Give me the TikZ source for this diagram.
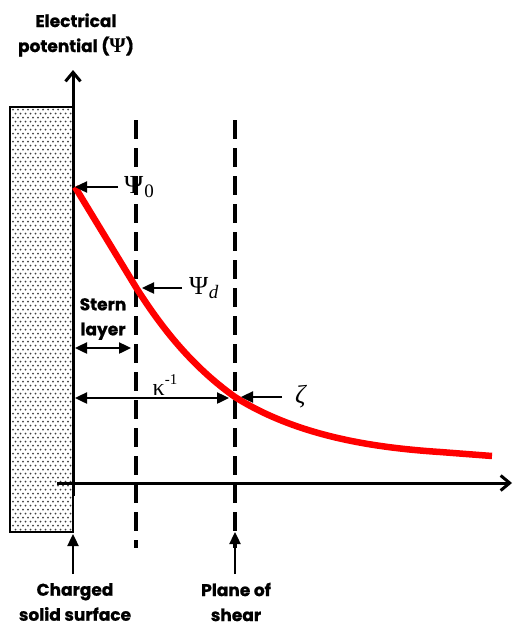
\documentclass[tikz,border=0pt]{standalone}
\usepackage{fontspec}
\newfontfamily\lab{Poppins}[BoldFeatures={FakeBold=0.8}]
\newfontfamily\gk{Liberation Serif}
\usetikzlibrary{arrows.meta}
\begin{document}
\begin{tikzpicture}[x=1pt,y=-1pt,
  axis/.style={line width=3pt,-{Straight Barb[length=9pt,width=15pt,line width=3pt]}},
  guide/.style={line width=3.4pt,dash pattern=on 19pt off 9pt},
  ptr/.style={line width=2.4pt,-{Triangle[length=12pt,width=11pt]}},
  dbl/.style={line width=2.4pt,{Triangle[length=12pt,width=11pt]}-{Triangle[length=12pt,width=11pt]}},
  lbl/.style={font=\lab\bfseries\fontsize{17}{25}\selectfont,align=center,inner sep=0pt},
  sym/.style={font=\gk\fontsize{26}{28}\selectfont,inner sep=0pt,anchor=west},
  dot/.style={fill=black!75}]
\useasboundingbox (0,0) rectangle (515,626);
% solid
\foreach \j in {0,...,105} {
  \pgfmathsetmacro{\yy}{109.5+\j*4}
  \pgfmathsetmacro{\xo}{mod(\j,2)*2.5}
  \foreach \i in {0,...,11} {
    \fill[dot] ({13+\xo+\i*5},\yy) circle (1pt);
  }
}
\draw[line width=1.4pt] (10,107) rectangle (73,532);
% dashed planes
\draw[guide] (136,120) -- (136,548);
\draw[guide] (235,120) -- (235,548);
% axes
\coordinate (yb) at (73,496);
\coordinate (yt) at (73,70);
\coordinate (xl) at (57,483);
\coordinate (xr) at (512,483);
\draw[axis] (yb) -- (yt);
\draw[axis] (xl) -- (xr);
% curve
\coordinate (p0) at (75,187);
\coordinate (pd) at (137,289);
\coordinate (pz) at (235,397);
\draw[red,line width=6.5pt,line cap=butt]
  (p0) -- (pd) .. controls (160,325) and (190,365) .. (pz)
  .. controls (300,438) and (380,448) .. (440,452)
  -- (492,456);
% labels
\node[lbl] (title) at (76,35) {Electrical\\potential ({\gk\fontsize{21}{21}\selectfont Ψ})};
\node[sym] (l0) at (124,187) {Ψ\kern1pt\raisebox{-0.3ex}{\fontsize{19}{19}\selectfont 0}};
\node[sym] (ld) at (189,288) {Ψ\kern0.5pt\raisebox{-0.3ex}{\fontsize{19}{19}\selectfont\itshape d}};
\node[sym] (lz) at (295,397) {\itshape ζ};
\draw[ptr] (118,187) -- (p0);
\draw[ptr] (182,288) -- (142,288);
\draw[ptr] (282,397) -- (241,397);
\coordinate (s1) at (75,348);
\coordinate (s2) at (131,348);
\draw[dbl] (s1) -- (s2);
\node[lbl] (stern) at (103,319) {Stern\\layer};
\coordinate (k1) at (75,398);
\coordinate (k2) at (229,398);
\draw[dbl] (k1) -- (k2);
\node[font=\gk\fontsize{24}{26}\selectfont,inner sep=0pt] (kap) at (165,385) {κ\raisebox{1.0ex}{\fontsize{15}{15}\selectfont -1}};
% bottom
\coordinate (c1) at (73,574);
\coordinate (c2) at (73,534);
\draw[ptr] (c1) -- (c2);
\coordinate (q1) at (235,574);
\coordinate (q2) at (235,532);
\draw[ptr] (q1) -- (q2);
\node[lbl] (charged) at (75,602) {Charged\\solid surface};
\node[lbl] (plane) at (236,602) {Plane of\\shear};
\end{tikzpicture}
\end{document}
